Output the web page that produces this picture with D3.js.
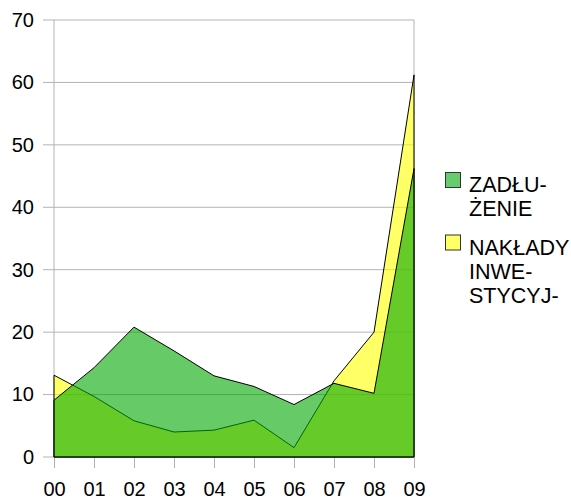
<!DOCTYPE html>
<html>
<head>
<meta charset="utf-8">
<script src="https://cdn.jsdelivr.net/npm/d3@7"></script>
<style>
  body { margin: 0; background: #fff; }
  text { font-family: "Liberation Sans", Arial, sans-serif; }
</style>
</head>
<body>
<div id="chart"></div>
<script>
// ---- data ----
const years = ["00", "01", "02", "03", "04", "05", "06", "07", "08", "09"];
const zadluzenie = [9.1, 14.3, 20.8, 17.0, 13.0, 11.3, 8.4, 11.8, 10.2, 46.2];
const naklady = [13.1, 9.7, 5.8, 4.0, 4.3, 5.9, 1.5, 12.2, 20.0, 61.2];
const yTicks = [0, 10, 20, 30, 40, 50, 60, 70];
const legendItems = [
    { lines: ["ZADŁU-", "ŻENIE"], fill: "#66cc6e", area: "rgba(0,168,0,0.6)" },
    { lines: ["NAKŁADY", "INWE-", "STYCYJ-"], fill: "#ffff66", area: "rgba(255,255,0,0.6)" }
];

const W = 571, H = 499;
const margin = { top: 20, right: 157, bottom: 42, left: 54 };
const width = W - margin.left - margin.right;
const height = H - margin.top - margin.bottom;

const svg = d3.select("#chart").append("svg")
    .attr("width", W)
    .attr("height", H);

const g = svg.append("g")
    .attr("transform", `translate(${margin.left},${margin.top})`);

const x = d3.scalePoint().domain(years).range([0, width]);
const y = d3.scaleLinear().domain([0, 70]).range([height, 0]);

// y labels
g.append("g")
    .call(d3.axisLeft(y).tickValues(yTicks).tickSize(0).tickPadding(20).tickFormat(d3.format("d")))
    .call(a => a.select(".domain").remove())
    .call(a => a.selectAll("text").attr("font-size", 20).attr("fill", "#000"));

// gridlines (with small outside ticks)
g.append("g").selectAll("line").data(yTicks).join("line")
    .attr("x1", -11).attr("x2", width)
    .attr("y1", d => y(d)).attr("y2", d => y(d))
    .attr("stroke", "#b3b3b3");

// frame: left axis and right border
g.append("line").attr("x1", 0).attr("x2", 0).attr("y1", 0).attr("y2", height).attr("stroke", "#b3b3b3");
g.append("line").attr("x1", width).attr("x2", width).attr("y1", 0).attr("y2", height).attr("stroke", "#b3b3b3");

// x axis ticks + labels
g.append("g")
    .attr("transform", `translate(0,${height})`)
    .call(d3.axisBottom(x).tickSize(11).tickPadding(14))
    .call(a => a.select(".domain").remove())
    .call(a => a.selectAll("line").attr("stroke", "#b3b3b3"))
    .call(a => a.selectAll("text").attr("font-size", 20).attr("fill", "#000"));

// areas
const area = vals => d3.area()
    .x((d, i) => x(years[i]))
    .y0(y(0))
    .y1(d => y(d))(vals);

g.append("path")
    .attr("d", area(naklady))
    .attr("fill", legendItems[1].area)
    .attr("stroke", "#000")
    .attr("stroke-width", 1)
    .attr("stroke-linejoin", "round");

g.append("path")
    .attr("d", area(zadluzenie))
    .attr("fill", legendItems[0].area)
    .attr("stroke", "#000")
    .attr("stroke-width", 1)
    .attr("stroke-linejoin", "round");

// legend
const legend = svg.append("g").attr("transform", "translate(445,172)");
let yy = 0;
legendItems.forEach(item => {
    const row = legend.append("g").attr("transform", `translate(0,${yy})`);
    row.append("rect")
        .attr("x", 0.5).attr("y", 0.5)
        .attr("width", 15).attr("height", 15)
        .attr("fill", item.fill)
        .attr("stroke", "#333");
    item.lines.forEach((t, i) => {
        row.append("text")
            .attr("x", 24)
            .attr("y", 20 + i * 24.3)
            .attr("font-size", 21.5)
            .attr("fill", "#000")
            .text(t);
    });
    yy += 62.5;
});
</script>
</body>
</html>
